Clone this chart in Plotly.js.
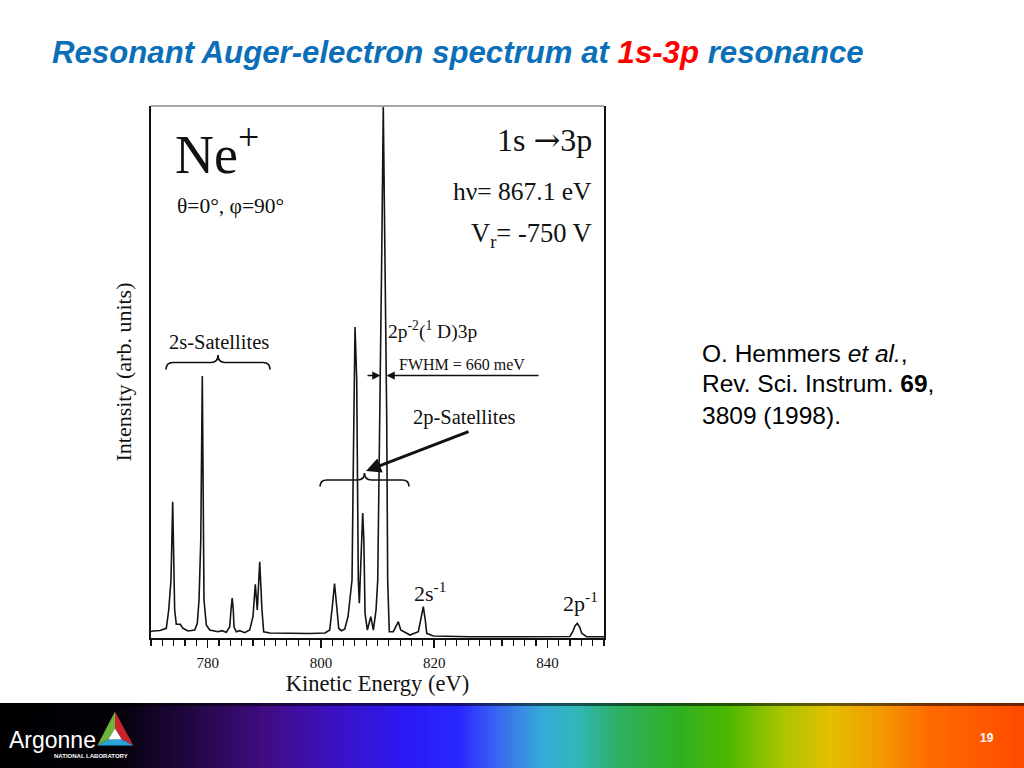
<!DOCTYPE html>
<html><head><meta charset="utf-8">
<script src="https://cdn.plot.ly/plotly-3.0.1.min.js"></script>
<style>html,body{margin:0;padding:0;background:#fff}#chart{width:1024px;height:768px}</style>
</head><body><div id="chart"></div>
<script>
// ---- data ----
const energy = [770.0, 770.35, 771.59, 772.70, 773.13, 773.53, 773.83, 774.06, 774.18, 774.47, 775.17, 775.65, 776.53, 777.72,
  778.18, 778.48, 778.79, 779.06, 779.27, 779.36, 779.77, 780.37, 781.83, 782.54, 783.30, 783.90, 784.13, 784.34, 784.53, 784.66,
  785.06, 785.66, 786.55, 787.43, 788.01, 788.42, 788.77, 789.20, 789.60, 789.90, 791.02, 794.55, 798.08, 800.73, 801.56, 802.02,
  802.41, 802.80, 803.15, 803.61, 804.21, 804.79, 805.50, 805.76, 806.03, 806.33, 806.61, 806.79, 807.06, 807.39, 807.59, 807.80,
  808.21, 808.81, 809.27, 809.74, 810.04, 810.44, 810.76, 811.02, 811.32, 811.62, 811.80, 811.91, 812.08, 812.79, 813.27, 813.68,
  814.10, 814.68, 815.74, 817.21, 817.68, 818.09, 818.44, 818.69, 819.86, 826.34, 835.17, 843.99, 844.47, 844.87, 845.28, 845.70,
  846.06, 846.94, 850.00];
const intensity = [1.22, 1.32, 1.41, 1.82, 5.26, 10.90, 25.62, 10.90, 5.26, 2.58, 2.58, 1.82, 1.32, 1.50,
  2.76, 7.14, 18.42, 49.25, 18.42, 7.14, 2.44, 1.50, 1.18, 1.37, 1.07, 2.12, 5.26, 7.52, 5.26, 2.12,
  1.18, 1.37, 1.00, 1.50, 4.00, 10.09, 5.26, 14.34, 5.26, 1.18, 0.94, 0.85, 0.85, 0.94, 1.50, 5.88,
  10.24, 5.88, 1.82, 1.37, 1.64, 4.00, 10.90, 35.34, 58.46, 48.50, 10.90, 6.52, 14.66, 23.50, 18.42, 4.64,
  1.50, 4.00, 1.50, 5.26, 10.90, 42.29, 72.93, 99.81, 72.93, 42.29, 10.90, 4.32, 1.18, 1.18, 2.26, 3.06,
  1.50, 1.18, 0.56, 1.18, 3.38, 5.88, 3.38, 0.88, 0.38, 0.24, 0.24, 0.28, 1.18, 2.26, 2.76, 2.07,
  0.88, 0.24, 0.24];
const tickValues = [780, 800, 820, 840];
const tickLabels = ['780', '800', '820', '840'];
const xRange = [770, 850];
const yRange = [0, 100];

// ---- layout helpers (pixel -> paper) ----
const L = 151, R = 604, T = 106, B = 638;
const px = x => (x - L) / (R - L);
const py = y => (B - y) / (B - T);
const SERIF = 'Liberation Serif, Times New Roman, serif';
const SANS = 'Liberation Sans, Arial, sans-serif';

function txt(text, x, y, size, xanchor, family, color, weight) {
  return {text: text, x: px(x), y: py(y), xref: 'paper', yref: 'paper', showarrow: false,
    xanchor: xanchor || 'left', yanchor: 'middle',
    font: {family: family || SERIF, size: size, color: color || '#111', weight: weight || 'normal'}};
}
function arrow(tipX, tipY, tailX, tailY, width, size) {
  return {text: '', x: px(tipX), y: py(tipY), xref: 'paper', yref: 'paper', showarrow: true,
    ax: tailX - tipX, ay: tailY - tipY, axref: 'pixel', ayref: 'pixel',
    arrowhead: 2, arrowsize: size, arrowwidth: width, arrowcolor: '#111', standoff: 0, startstandoff: 0};
}
function pathFromPx(cmds) {
  return cmds.map(c => c[0] + ' ' + c.slice(1).map((v, i) => i % 2 === 0 ? px(v).toFixed(5) : py(v).toFixed(5)).join(',')).join(' ');
}
function brace(x0, x1, yEnd, yBar, yTip) {
  const xm = (x0 + x1) / 2, r = 7;
  return pathFromPx([
    ['M', x0, yEnd], ['Q', x0, yBar, x0 + r, yBar], ['L', xm - r, yBar], ['Q', xm, yBar, xm, yTip],
    ['Q', xm, yBar, xm + r, yBar], ['L', x1 - r, yBar], ['Q', x1, yBar, x1, yEnd]
  ]);
}

const shapes = [];
shapes.push({type: 'line', xref: 'paper', yref: 'paper', x0: 0, x1: 1, y0: 1, y1: 1, line: {color: '#8a8a8a', width: 1.5}});
shapes.push({type: 'path', xref: 'paper', yref: 'paper', path: brace(166, 270, 369.5, 362.5, 355), line: {color: '#111', width: 1.7}});
shapes.push({type: 'path', xref: 'paper', yref: 'paper', path: brace(320, 409, 486.5, 480, 473), line: {color: '#111', width: 1.7}});

// footer gradient bar
const stops = [[0,'#000000'],[120,'#05010a'],[200,'#25084a'],[270,'#420c88'],[340,'#3a12c8'],[410,'#2a1af5'],[460,'#2a28ff'],
  [500,'#3a6af0'],[540,'#36a8d8'],[575,'#30b8bc'],[620,'#2eb060'],[680,'#30b020'],[730,'#50b800'],[780,'#a8c400'],
  [830,'#e4c000'],[880,'#f29a00'],[930,'#ff6a00'],[1024,'#ff4a00']];
function hex2rgb(h){return [parseInt(h.substr(1,2),16),parseInt(h.substr(3,2),16),parseInt(h.substr(5,2),16)];}
function colorAt(x){
  for (let i = 0; i < stops.length - 1; i++) {
    const a = stops[i], b = stops[i+1];
    if (x >= a[0] && x <= b[0]) {
      const t = (x - a[0]) / (b[0] - a[0]), ca = hex2rgb(a[1]), cb = hex2rgb(b[1]);
      return 'rgb(' + ca.map((v, k) => Math.round(v + (cb[k] - v) * t)).join(',') + ')';
    }
  }
  return stops[stops.length-1][1];
}
for (let x = 0; x < 1024; x += 4) {
  shapes.push({type: 'rect', xref: 'paper', yref: 'paper', x0: px(x), x1: px(x + 4.6), y0: py(768), y1: py(703),
    fillcolor: colorAt(x + 2), line: {width: 0}, layer: 'above'});
}
shapes.push({type: 'rect', xref: 'paper', yref: 'paper', x0: px(0), x1: px(1024), y0: py(706), y1: py(703),
  fillcolor: 'rgba(0,0,0,0.55)', line: {width: 0}});
// Argonne triangle logo
const Tp = [115, 711.5], Lp = [97.3, 745.5], Rp = [133.3, 745.5], tp = [115, 728.5], lp = [108.2, 739.5], rp = [121.8, 739.5];
function poly(pts, color){
  return {type: 'path', xref: 'paper', yref: 'paper', fillcolor: color, line: {width: 0},
    path: pts.map((p, i) => (i ? 'L ' : 'M ') + px(p[0]).toFixed(5) + ',' + py(p[1]).toFixed(5)).join(' ') + ' Z'};
}
shapes.push(poly([Tp, Lp, lp, tp], '#6cb43a'));
shapes.push(poly([Tp, tp, rp, Rp], '#c8242e'));
shapes.push(poly([Lp, Rp, rp, lp], '#2aa2dc'));
shapes.push(poly([tp, lp, rp], '#ffffff'));

const annotations = [
  txt('Ne<sup>+</sup>', 173, 150, 54, 'left'),
  txt('θ=0°, φ=90°', 175, 206, 21.5, 'left'),
  txt('1s <span style="font-family:DejaVu Serif">→</span>3p', 594, 140, 32, 'right'),
  txt('hν= 867.1 eV', 594, 191, 25.5, 'right'),
  txt('V<sub>r</sub>= -750 V', 594, 235, 26.5, 'right'),
  txt('2s-Satellites', 219, 342, 20.5, 'center'),
  txt('2p<sup>-2</sup>(<sup>1</sup> D)3p', 386, 330, 19.5, 'left'),
  txt('FWHM = 660 meV', 397, 364, 16, 'left'),
  txt('2p-Satellites', 411, 417, 20.5, 'left'),
  txt('2s<sup>-1</sup>', 412, 592, 22, 'left'),
  txt('2p<sup>-1</sup>', 561, 602, 22, 'left'),
  arrow(386.5, 375.5, 540, 375.5, 1.5, 1.1),
  arrow(380.5, 375.5, 366, 375.5, 1.5, 1.1),
  arrow(366, 471, 470, 431, 3, 1.0),
  txt('O. Hemmers <i>et al.</i>,', 700, 353, 24.5, 'left', SANS, '#000'),
  txt('Rev. Sci. Instrum. <b>69</b>,', 700, 384, 24.5, 'left', SANS, '#000'),
  txt('3809 (1998).', 700, 415, 24.5, 'left', SANS, '#000'),
  txt('Argonne', 7, 740, 23, 'left', SANS, '#fff'),
  txt('NATIONAL LABORATORY', 52, 756, 6, 'left', SANS, '#fff', 'bold'),
  txt('19', 987, 738, 12, 'center', SANS, '#fff', 'bold')
];

const trace = {x: energy, y: intensity, type: 'scatter', mode: 'lines',
  line: {color: '#141414', width: 1.6}, hoverinfo: 'skip', showlegend: false};

const layout = {
  width: 1024, height: 768,
  margin: {l: L, r: 1024 - R, t: T, b: 768 - B, pad: 0},
  paper_bgcolor: '#ffffff', plot_bgcolor: '#ffffff',
  showlegend: false,
  title: {text: 'Resonant Auger-electron spectrum at <span style="color:#ff0000">1s-3p</span> resonance',
    xref: 'container', yref: 'container', x: 52 / 1024, xanchor: 'left', y: 1 - 52 / 768, yanchor: 'middle',
    font: {family: SANS, size: 31.2, color: '#0b6fb8', weight: 'bold', style: 'italic'}},
  xaxis: {range: xRange, showline: true, linecolor: '#111', linewidth: 2, mirror: false,
    showgrid: false, zeroline: false, ticks: 'outside', ticklen: 8, tickwidth: 1.3, tickcolor: '#111',
    tickmode: 'array', tickvals: tickValues, ticktext: tickLabels, ticklabelstandoff: 2,
    tickfont: {family: SERIF, size: 15, color: '#111'},
    minor: {tickmode: 'linear', tick0: 770, dtick: 2, ticks: 'outside', ticklen: 6, tickwidth: 1.2, tickcolor: '#111', showgrid: false},
    title: {text: 'Kinetic Energy (eV)', font: {family: SERIF, size: 22.5, color: '#111'}, standoff: 0}},
  yaxis: {range: yRange, showline: true, linecolor: '#111', linewidth: 1.6, mirror: true,
    showgrid: false, zeroline: false, ticks: '', showticklabels: false,
    title: {text: 'Intensity (arb. units)', font: {family: SERIF, size: 22, color: '#111'}, standoff: 12}},
  shapes: shapes,
  annotations: annotations
};

Plotly.newPlot('chart', [trace], layout, {displayModeBar: false, staticPlot: true});
</script>
</body></html>
